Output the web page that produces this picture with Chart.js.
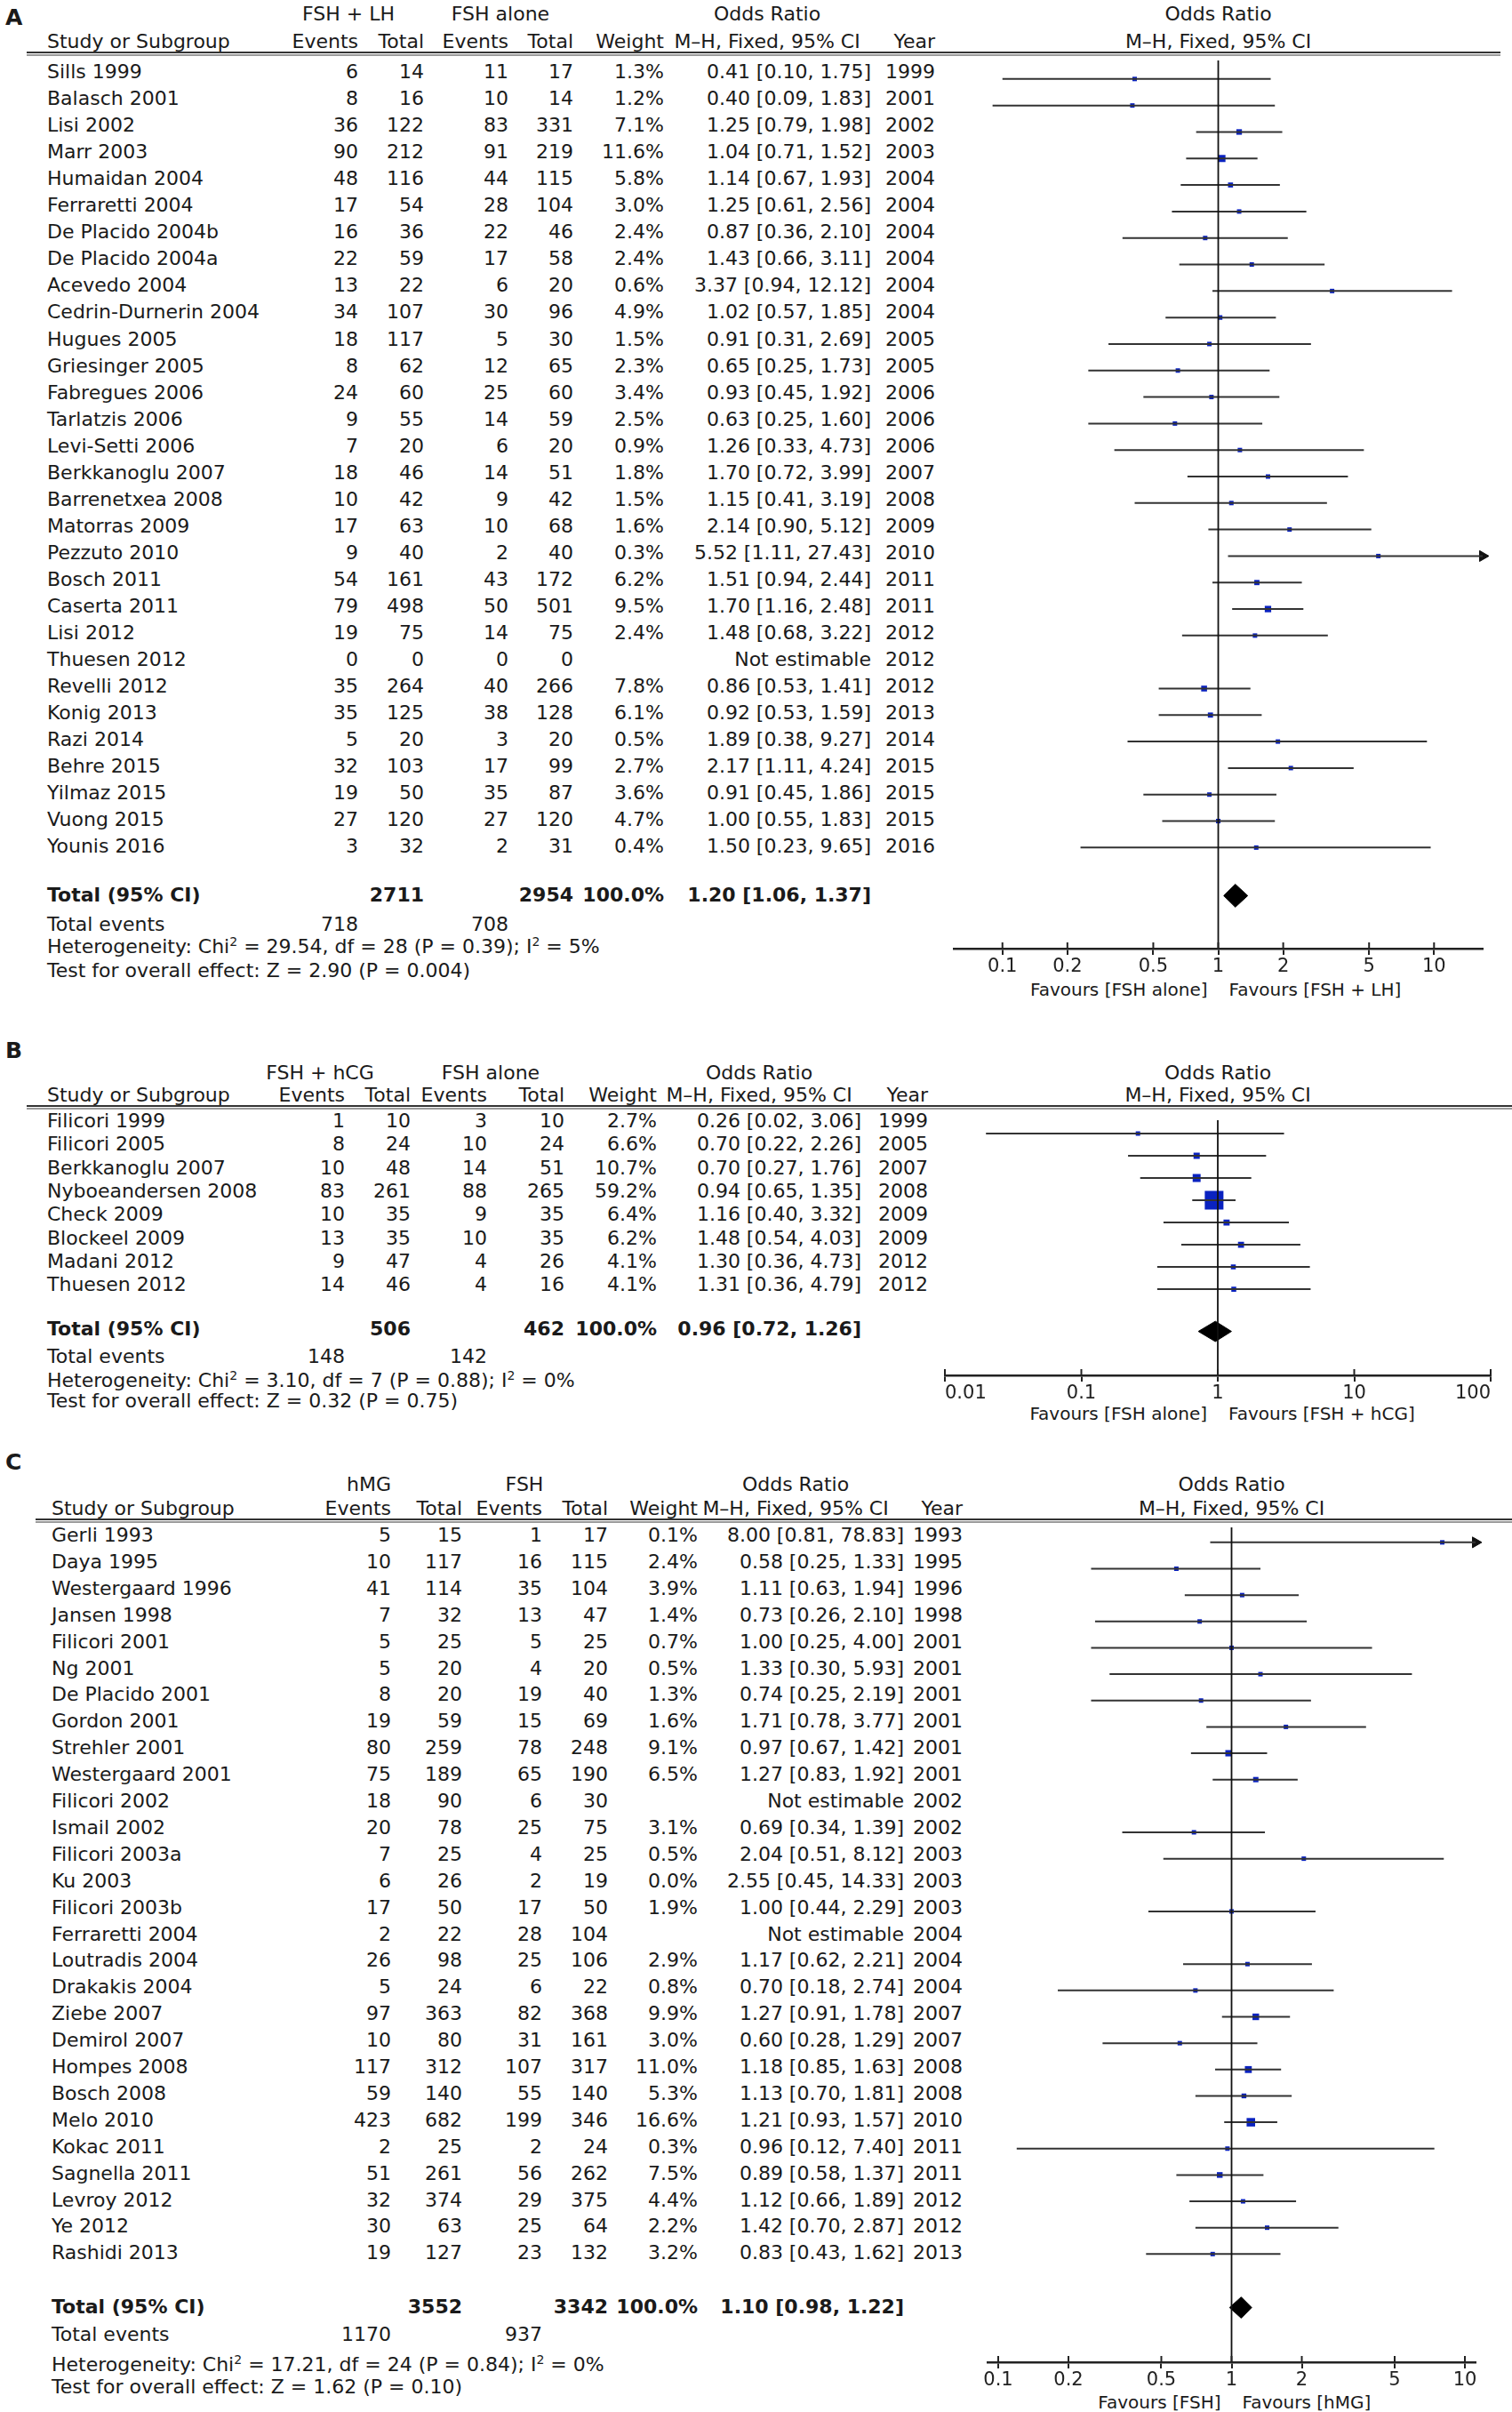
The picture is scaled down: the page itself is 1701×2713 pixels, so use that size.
<!DOCTYPE html>
<html>
<head>
<meta charset="utf-8">
<script src="https://cdn.jsdelivr.net/npm/chart.js@4.4.1/dist/chart.umd.min.js"></script>
<style>
  body { margin: 0; background: #fff; }
  #page { position: relative; width: 1701px; height: 2713px; overflow: hidden;
          font-family: "DejaVu Sans", sans-serif; color: #1a1a1a; background: #fff; }
  .t { position: absolute; white-space: nowrap; font-size: 22px; line-height: 26px; }
  .b { font-weight: bold; }
  .dbl { position: absolute; height: 1px; border-top: 2px solid #333; border-bottom: 2px solid #9a9a9a; }
  canvas { position: absolute; }
  sup { font-size: 14px; line-height: 0; }
</style>
</head>
<body>
<div id="page"></div>
<script>
// ---------- Panel A: FSH + LH vs FSH alone ----------
const studiesA = ["Sills 1999", "Balasch 2001", "Lisi 2002", "Marr 2003", "Humaidan 2004", "Ferraretti 2004",
  "De Placido 2004b", "De Placido 2004a", "Acevedo 2004", "Cedrin-Durnerin 2004", "Hugues 2005", "Griesinger 2005",
  "Fabregues 2006", "Tarlatzis 2006", "Levi-Setti 2006", "Berkkanoglu 2007", "Barrenetxea  2008", "Matorras 2009",
  "Pezzuto 2010", "Bosch 2011", "Caserta 2011", "Lisi 2012", "Thuesen 2012", "Revelli 2012", "Konig 2013",
  "Razi 2014", "Behre 2015", "Yilmaz 2015", "Vuong 2015", "Younis 2016"];
const eventsA1 = [6, 8, 36, 90, 48, 17, 16, 22, 13, 34, 18, 8, 24, 9, 7, 18, 10, 17, 9, 54, 79, 19, 0, 35, 35, 5, 32, 19, 27, 3];
const totalsA1 = [14, 16, 122, 212, 116, 54, 36, 59, 22, 107, 117, 62, 60, 55, 20, 46, 42, 63, 40, 161, 498, 75, 0, 264, 125, 20, 103, 50, 120, 32];
const eventsA2 = [11, 10, 83, 91, 44, 28, 22, 17, 6, 30, 5, 12, 25, 14, 6, 14, 9, 10, 2, 43, 50, 14, 0, 40, 38, 3, 17, 35, 27, 2];
const totalsA2 = [17, 14, 331, 219, 115, 104, 46, 58, 20, 96, 30, 65, 60, 59, 20, 51, 42, 68, 40, 172, 501, 75, 0, 266, 128, 20, 99, 87, 120, 31];
const weightsA = [1.3, 1.2, 7.1, 11.6, 5.8, 3.0, 2.4, 2.4, 0.6, 4.9, 1.5, 2.3, 3.4, 2.5, 0.9, 1.8, 1.5, 1.6, 0.3, 6.2, 9.5, 2.4, null, 7.8, 6.1, 0.5, 2.7, 3.6, 4.7, 0.4];
const oddsA = [0.41, 0.40, 1.25, 1.04, 1.14, 1.25, 0.87, 1.43, 3.37, 1.02, 0.91, 0.65, 0.93, 0.63, 1.26, 1.70, 1.15, 2.14, 5.52, 1.51, 1.70, 1.48, null, 0.86, 0.92, 1.89, 2.17, 0.91, 1.00, 1.50];
const lowA = [0.10, 0.09, 0.79, 0.71, 0.67, 0.61, 0.36, 0.66, 0.94, 0.57, 0.31, 0.25, 0.45, 0.25, 0.33, 0.72, 0.41, 0.90, 1.11, 0.94, 1.16, 0.68, null, 0.53, 0.53, 0.38, 1.11, 0.45, 0.55, 0.23];
const highA = [1.75, 1.83, 1.98, 1.52, 1.93, 2.56, 2.10, 3.11, 12.12, 1.85, 2.69, 1.73, 1.92, 1.60, 4.73, 3.99, 3.19, 5.12, 27.43, 2.44, 2.48, 3.22, null, 1.41, 1.59, 9.27, 4.24, 1.86, 1.83, 9.65];
const yearsA = [1999, 2001, 2002, 2003, 2004, 2004, 2004, 2004, 2004, 2004, 2005, 2005, 2006, 2006, 2006, 2007, 2008, 2009, 2010, 2011, 2011, 2012, 2012, 2012, 2013, 2014, 2015, 2015, 2015, 2016];
const pooledA = [1.20, 1.06, 1.37];          // OR, low, high
const sumsA = [2711, 2954, 718, 708];          // totals, total events
const ticksA = [0.1, 0.2, 0.5, 1, 2, 5, 10];

// ---------- Panel B: FSH + hCG vs FSH alone ----------
const studiesB = ["Filicori 1999", "Filicori 2005", "Berkkanoglu 2007", "Nyboeandersen 2008", "Check 2009",
  "Blockeel 2009", "Madani 2012", "Thuesen 2012"];
const eventsB1 = [1, 8, 10, 83, 10, 13, 9, 14];
const totalsB1 = [10, 24, 48, 261, 35, 35, 47, 46];
const eventsB2 = [3, 10, 14, 88, 9, 10, 4, 4];
const totalsB2 = [10, 24, 51, 265, 35, 35, 26, 16];
const weightsB = [2.7, 6.6, 10.7, 59.2, 6.4, 6.2, 4.1, 4.1];
const oddsB = [0.26, 0.70, 0.70, 0.94, 1.16, 1.48, 1.30, 1.31];
const lowB = [0.02, 0.22, 0.27, 0.65, 0.40, 0.54, 0.36, 0.36];
const highB = [3.06, 2.26, 1.76, 1.35, 3.32, 4.03, 4.73, 4.79];
const yearsB = [1999, 2005, 2007, 2008, 2009, 2009, 2012, 2012];
const pooledB = [0.96, 0.72, 1.26];
const sumsB = [506, 462, 148, 142];
const ticksB = [0.01, 0.1, 1, 10, 100];

// ---------- Panel C: hMG vs FSH ----------
const studiesC = ["Gerli 1993", "Daya 1995", "Westergaard 1996", "Jansen 1998", "Filicori 2001", "Ng 2001",
  "De Placido 2001", "Gordon 2001", "Strehler 2001", "Westergaard 2001", "Filicori 2002", "Ismail 2002",
  "Filicori 2003a", "Ku 2003", "Filicori 2003b", "Ferraretti 2004", "Loutradis 2004", "Drakakis 2004",
  "Ziebe 2007", "Demirol 2007", "Hompes 2008", "Bosch 2008", "Melo 2010", "Kokac 2011", "Sagnella 2011",
  "Levroy 2012", "Ye 2012", "Rashidi 2013"];
const eventsC1 = [5, 10, 41, 7, 5, 5, 8, 19, 80, 75, 18, 20, 7, 6, 17, 2, 26, 5, 97, 10, 117, 59, 423, 2, 51, 32, 30, 19];
const totalsC1 = [15, 117, 114, 32, 25, 20, 20, 59, 259, 189, 90, 78, 25, 26, 50, 22, 98, 24, 363, 80, 312, 140, 682, 25, 261, 374, 63, 127];
const eventsC2 = [1, 16, 35, 13, 5, 4, 19, 15, 78, 65, 6, 25, 4, 2, 17, 28, 25, 6, 82, 31, 107, 55, 199, 2, 56, 29, 25, 23];
const totalsC2 = [17, 115, 104, 47, 25, 20, 40, 69, 248, 190, 30, 75, 25, 19, 50, 104, 106, 22, 368, 161, 317, 140, 346, 24, 262, 375, 64, 132];
const weightsC = [0.1, 2.4, 3.9, 1.4, 0.7, 0.5, 1.3, 1.6, 9.1, 6.5, null, 3.1, 0.5, 0.0, 1.9, null, 2.9, 0.8, 9.9, 3.0, 11.0, 5.3, 16.6, 0.3, 7.5, 4.4, 2.2, 3.2];
const oddsC = [8.00, 0.58, 1.11, 0.73, 1.00, 1.33, 0.74, 1.71, 0.97, 1.27, null, 0.69, 2.04, 2.55, 1.00, null, 1.17, 0.70, 1.27, 0.60, 1.18, 1.13, 1.21, 0.96, 0.89, 1.12, 1.42, 0.83];
const lowC = [0.81, 0.25, 0.63, 0.26, 0.25, 0.30, 0.25, 0.78, 0.67, 0.83, null, 0.34, 0.51, 0.45, 0.44, null, 0.62, 0.18, 0.91, 0.28, 0.85, 0.70, 0.93, 0.12, 0.58, 0.66, 0.70, 0.43];
const highC = [78.83, 1.33, 1.94, 2.10, 4.00, 5.93, 2.19, 3.77, 1.42, 1.92, null, 1.39, 8.12, 14.33, 2.29, null, 2.21, 2.74, 1.78, 1.29, 1.63, 1.81, 1.57, 7.40, 1.37, 1.89, 2.87, 1.62];
const yearsC = [1993, 1995, 1996, 1998, 2001, 2001, 2001, 2001, 2001, 2001, 2002, 2002, 2003, 2003, 2003, 2004, 2004, 2004, 2007, 2007, 2008, 2008, 2010, 2011, 2011, 2012, 2012, 2013];
const pooledC = [1.10, 0.98, 1.22];
const sumsC = [3552, 3342, 1170, 937];
const ticksC = [0.1, 0.2, 0.5, 1, 2, 5, 10];

const page = document.getElementById("page");

function put(html, x, y, align, cls, size) {
  const d = document.createElement("div");
  d.className = "t" + (cls ? " " + cls : "");
  d.innerHTML = html;
  if (size) d.style.fontSize = size + "px";
  d.style.top = (y - 13) + "px";
  if (align === "r") d.style.right = (1701 - x) + "px";
  else if (align === "c") { d.style.left = x + "px"; d.style.transform = "translateX(-50%)"; }
  else d.style.left = x + "px";
  page.appendChild(d);
  return d;
}

const fmt = (v) => v.toFixed(2);

function drawPanel(P) {
  const c = P.cols;
  put(P.letter, 6, P.letterY, "l", "b", 25);
  put(P.group1, c.g1, P.h1Y, "c");
  put(P.group2, c.g2, P.h1Y, "c");
  put("Odds Ratio", c.gOR, P.h1Y, "c");
  put("Study or Subgroup", c.label, P.h2Y, "l");
  put("Events", c.ev1, P.h2Y, "r");
  put("Total", c.tot1, P.h2Y, "r");
  put("Events", c.ev2, P.h2Y, "r");
  put("Total", c.tot2, P.h2Y, "r");
  put("Weight", c.wt, P.h2Y, "r");
  put("M\u2013H, Fixed, 95% CI", c.gOR, P.h2Y, "c");
  put("Year", c.yr, P.h2Y, "r");
  const plotH1 = put("Odds Ratio", 1370, P.h1Y, "c");
  const plotH2 = put("M\u2013H, Fixed, 95% CI", 1370, P.h2Y, "c");

  const line = document.createElement("div");
  line.className = "dbl";
  line.style.left = P.lineX0 + "px";
  line.style.width = (P.lineX1 - P.lineX0) + "px";
  line.style.top = (P.lineY - 2) + "px";
  page.appendChild(line);

  P.studies.forEach((s, i) => {
    const y = P.y0 + i * P.dy;
    put(s, c.label, y, "l");
    put(String(P.ev1[i]), c.ev1, y, "r");
    put(String(P.tot1[i]), c.tot1, y, "r");
    put(String(P.ev2[i]), c.ev2, y, "r");
    put(String(P.tot2[i]), c.tot2, y, "r");
    if (P.wt[i] != null) put(P.wt[i].toFixed(1) + "%", c.wt, y, "r");
    put(P.or[i] == null ? "Not estimable" :
      fmt(P.or[i]) + " [" + fmt(P.lo[i]) + ", " + fmt(P.hi[i]) + "]", c.or, y, "r");
    put(String(P.years[i]), c.yr, y, "r");
  });

  put("Total (95% CI)", c.label, P.totalY, "l", "b");
  put(String(P.sums[0]), c.tot1, P.totalY, "r", "b");
  put(String(P.sums[1]), c.tot2, P.totalY, "r", "b");
  put("100.0%", c.wt, P.totalY, "r", "b");
  put(fmt(P.pooled[0]) + " [" + fmt(P.pooled[1]) + ", " + fmt(P.pooled[2]) + "]", c.or, P.totalY, "r", "b");
  put("Total events", c.label, P.eventsY, "l");
  put(String(P.sums[2]), c.ev1, P.eventsY, "r");
  put(String(P.sums[3]), c.ev2, P.eventsY, "r");
  put(P.het, c.label, P.hetY, "l");
  put(P.test, c.label, P.testY, "l");

  const favL = put(P.favL, 1360, P.favY, "r", null, 20);
  const favR = put(P.favR, 1380, P.favY, "l", null, 20);

  // ----- chart -----
  const cvLeft = 1000, cvW = 701, axisH = 40;
  const cvTop = P.lineY;
  const cvH = P.axisY - cvTop + axisH;
  const cv = document.createElement("canvas");
  cv.width = cvW; cv.height = cvH;
  cv.style.left = cvLeft + "px"; cv.style.top = cvTop + "px";
  cv.style.width = cvW + "px"; cv.style.height = cvH + "px";
  page.appendChild(cv);

  const rowOf = (y) => (y - P.y0) / P.dy;
  const yTop = rowOf(cvTop), yAxis = rowOf(P.axisY), yTot = rowOf(P.totalY);

  const datasets = [];
  // reference line at OR = 1
  datasets.push({ data: [{ x: 1, y: yTop }, { x: 1, y: yAxis }], showLine: true,
    borderColor: "#111", borderWidth: 1.8, pointRadius: 0 });
  // confidence intervals
  P.lo.forEach((lo, i) => {
    if (lo == null || (P.wt[i] != null && P.wt[i] === 0)) return;
    datasets.push({ data: [{ x: lo, y: i }, { x: P.hi[i], y: i }], showLine: true,
      borderColor: "#333", borderWidth: 2, pointRadius: 0 });
  });
  // arrows for intervals beyond the axis
  const arrows = [];
  P.hi.forEach((hi, i) => { if (hi != null && hi > P.xmax && P.wt[i] !== 0) arrows.push({ x: P.xmax, y: i }); });
  datasets.push({ data: arrows, pointStyle: "triangle", rotation: 90, pointRadius: 7,
    backgroundColor: "#111", borderColor: "#111", borderWidth: 1, clip: false });
  // weight squares
  const sq = [], sqR = [];
  P.or.forEach((v, i) => {
    if (v == null || !P.wt[i]) return;
    sq.push({ x: v, y: i });
    sqR.push(Math.max(5, P.k * Math.sqrt(P.wt[i])) / Math.SQRT2);
  });
  datasets.push({ data: sq, pointStyle: "rect", pointRadius: sqR, backgroundColor: "#0a22c0",
    borderColor: "#0a22c0", borderWidth: 0 });
  // pooled diamond
  const h = P.diamondH / P.dy;
  datasets.push({ data: [{ x: P.pooled[1], y: yTot }, { x: P.pooled[0], y: yTot - h },
    { x: P.pooled[2], y: yTot }, { x: P.pooled[0], y: yTot + h }, { x: P.pooled[1], y: yTot }],
    showLine: true, fill: "shape", backgroundColor: "#000", borderColor: "#000", borderWidth: 1,
    pointRadius: 0, tension: 0 });

  const tickUp = {
    id: "tickUp",
    afterDraw(chart) {
      const s = chart.scales.x, ctx = chart.ctx, yb = chart.chartArea.bottom;
      ctx.save();
      ctx.strokeStyle = "#222"; ctx.lineWidth = 2;
      s.ticks.forEach((t) => {
        const px = s.getPixelForValue(t.value);
        ctx.beginPath(); ctx.moveTo(px, yb - 7); ctx.lineTo(px, yb); ctx.stroke();
      });
      ctx.restore();
    },
    afterLayout(chart) {
      const x1 = cvLeft + chart.scales.x.getPixelForValue(1);
      favL.style.right = (1701 - (x1 - 12)) + "px";
      favR.style.left = (x1 + 12) + "px";
      plotH1.style.left = x1 + "px";
      plotH2.style.left = x1 + "px";
    }
  };

  new Chart(cv, {
    type: "scatter",
    data: { datasets },
    plugins: [tickUp],
    options: {
      responsive: false,
      animation: false,
      layout: { padding: { left: P.chartL - cvLeft, right: cvLeft + cvW - P.chartR, top: 0, bottom: 0 } },
      plugins: { legend: { display: false }, tooltip: { enabled: false } },
      scales: {
        x: {
          type: "logarithmic", min: P.xmin, max: P.xmax, position: "bottom",
          afterBuildTicks: (s) => { s.ticks = P.ticks.map((v) => ({ value: v })); },
          afterFit: (s) => { s.height = axisH; },
          grid: { display: true, drawOnChartArea: false, drawTicks: true, tickLength: 7, color: "#222", lineWidth: 2 },
          border: { display: true, color: "#222", width: 2.5 },
          ticks: { color: "#222", font: { family: "DejaVu Sans", size: 21 }, padding: 1, align: P.tickAlign,
            maxRotation: 0, autoSkip: false, callback: (v) => String(v) }
        },
        y: { type: "linear", reverse: true, min: yTop, max: yAxis, display: false }
      }
    }
  });
}

drawPanel({
  letter: "A", letterY: 20, h1Y: 16, h2Y: 47, lineY: 60, lineX0: 30, lineX1: 1688,
  y0: 81, dy: 30.05, totalY: 1007, eventsY: 1040, hetY: 1065, testY: 1092,
  axisY: 1067, favY: 1113, chartL: 1073, chartR: 1668, xmin: 0.0595, xmax: 16.8,
  k: 2.35, diamondH: 13, tickAlign: "center",
  cols: { label: 53, ev1: 403, tot1: 477, ev2: 572, tot2: 645, wt: 747, or: 980, yr: 1052, g1: 392, g2: 563, gOR: 863 },
  group1: "FSH + LH", group2: "FSH alone",
  studies: studiesA, ev1: eventsA1, tot1: totalsA1, ev2: eventsA2, tot2: totalsA2, wt: weightsA,
  or: oddsA, lo: lowA, hi: highA, years: yearsA, pooled: pooledA, sums: sumsA, ticks: ticksA,
  het: "Heterogeneity: Chi<sup>2</sup> = 29.54, df = 28 (P = 0.39); I<sup>2</sup> = 5%",
  test: "Test for overall effect: Z = 2.90 (P = 0.004)",
  favL: "Favours [FSH alone]", favR: "Favours [FSH + LH]"
});

drawPanel({
  letter: "B", letterY: 1182, h1Y: 1207, h2Y: 1232, lineY: 1245, lineX0: 30, lineX1: 1701,
  y0: 1261, dy: 26.3, totalY: 1495, eventsY: 1526, hetY: 1553, testY: 1576,
  axisY: 1547, favY: 1590, chartL: 1063, chartR: 1677, xmin: 0.01, xmax: 100,
  k: 2.73, diamondH: 12, tickAlign: "inner",
  cols: { label: 53, ev1: 388, tot1: 462, ev2: 548, tot2: 635, wt: 739, or: 969, yr: 1044, g1: 360, g2: 552, gOR: 854 },
  group1: "FSH + hCG", group2: "FSH alone",
  studies: studiesB, ev1: eventsB1, tot1: totalsB1, ev2: eventsB2, tot2: totalsB2, wt: weightsB,
  or: oddsB, lo: lowB, hi: highB, years: yearsB, pooled: pooledB, sums: sumsB, ticks: ticksB,
  het: "Heterogeneity: Chi<sup>2</sup> = 3.10, df = 7 (P = 0.88); I<sup>2</sup> = 0%",
  test: "Test for overall effect: Z = 0.32 (P = 0.75)",
  favL: "Favours [FSH alone]", favR: "Favours [FSH + hCG]"
});

drawPanel({
  letter: "C", letterY: 1645, h1Y: 1670, h2Y: 1697, lineY: 1710, lineX0: 40, lineX1: 1701,
  y0: 1727, dy: 29.9, totalY: 2595, eventsY: 2626, hetY: 2660, testY: 2685,
  axisY: 2657, favY: 2702, chartL: 1111, chartR: 1660, xmin: 0.09, xmax: 11.11,
  k: 2.35, diamondH: 12, tickAlign: "center",
  cols: { label: 58, ev1: 440, tot1: 520, ev2: 610, tot2: 684, wt: 785, or: 1017, yr: 1083, g1: 415, g2: 590, gOR: 895 },
  group1: "hMG", group2: "FSH",
  studies: studiesC, ev1: eventsC1, tot1: totalsC1, ev2: eventsC2, tot2: totalsC2, wt: weightsC,
  or: oddsC, lo: lowC, hi: highC, years: yearsC, pooled: pooledC, sums: sumsC, ticks: ticksC,
  het: "Heterogeneity: Chi<sup>2</sup> = 17.21, df = 24 (P = 0.84); I<sup>2</sup> = 0%",
  test: "Test for overall effect: Z = 1.62 (P = 0.10)",
  favL: "Favours [FSH]", favR: "Favours [hMG]"
});
</script>
</body>
</html>
